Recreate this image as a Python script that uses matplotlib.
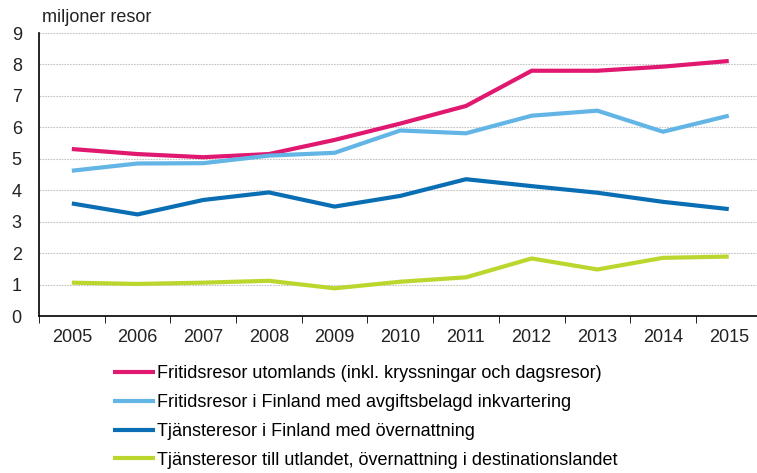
import matplotlib
matplotlib.use("Agg")
import matplotlib.pyplot as plt
from matplotlib.ticker import FixedLocator

plt.rcParams['font.family'] = ['Liberation Sans', 'DejaVu Sans']

years = ['2005', '2006', '2007', '2008', '2009', '2010', '2011', '2012', '2013', '2014', '2015']

# miljoner resor
fritid_utomlands = [5.31, 5.15, 5.05, 5.15, 5.6, 6.12, 6.68, 7.8, 7.8, 7.93, 8.11]
fritid_finland = [4.62, 4.85, 4.86, 5.1, 5.19, 5.9, 5.81, 6.37, 6.53, 5.86, 6.37]
tjanste_finland = [3.58, 3.23, 3.69, 3.93, 3.48, 3.82, 4.35, 4.13, 3.92, 3.63, 3.40]
tjanste_utland = [1.06, 1.02, 1.06, 1.12, 0.88, 1.09, 1.23, 1.83, 1.48, 1.85, 1.89]

labels = ['Fritidsresor utomlands (inkl. kryssningar och dagsresor)',
          'Fritidsresor i Finland med avgiftsbelagd inkvartering',
          'Tjänsteresor i Finland med övernattning',
          'Tjänsteresor till utlandet, övernattning i destinationslandet']
colors = ['#e0186f', '#62b5e5', '#0a6eb4', '#bdd62e']

W, H = 757, 473
fig = plt.figure(figsize=(W / 100, H / 100), dpi=100)
ax = fig.add_axes([39 / W, 157 / H, 718 / W, 283 / H])

x = list(range(len(years)))
series = [fritid_utomlands, fritid_finland, tjanste_finland, tjanste_utland]
for vals, col, lab in zip(series, colors, labels):
    ax.plot(x, vals, color=col, lw=3, label=lab, solid_capstyle='butt')

ax.set_ylim(0, 9)
ax.set_xlim(-0.5, 10.43)
ax.set_yticks(range(10))
ax.set_xticks(x)
ax.set_xticklabels(years)
ax.xaxis.set_minor_locator(FixedLocator([i - 0.5 for i in range(len(years) + 1)]))
ax.tick_params(axis='x', which='major', length=0, labelsize=13, pad=9, colors='#222222')
ax.tick_params(axis='x', which='minor', length=5, direction='out', color='black')
ax.tick_params(axis='y', length=0, labelsize=13, pad=16, colors='#222222')
for lab in ax.get_yticklabels():
    lab.set_horizontalalignment('center')

ax.grid(axis='y', color='#c4c4c4', linestyle=(0, (1.5, 1)), linewidth=0.8)
ax.set_axisbelow(True)
for s in ['top', 'right']:
    ax.spines[s].set_visible(False)
ax.spines['left'].set_linewidth(1.2)
ax.spines['bottom'].set_linewidth(1.2)

fig.text(42 / W, 1 - 18 / H, 'miljoner resor', fontsize=13, va='center', ha='left', color='#222222')

fig.legend(loc='upper left', bbox_to_anchor=(113 / W, 1 - 365 / H), frameon=False,
           fontsize=13, handlelength=2.35, handletextpad=0.1, labelspacing=0.66,
           borderpad=0, borderaxespad=0)

fig.savefig('out.png', dpi=100)
